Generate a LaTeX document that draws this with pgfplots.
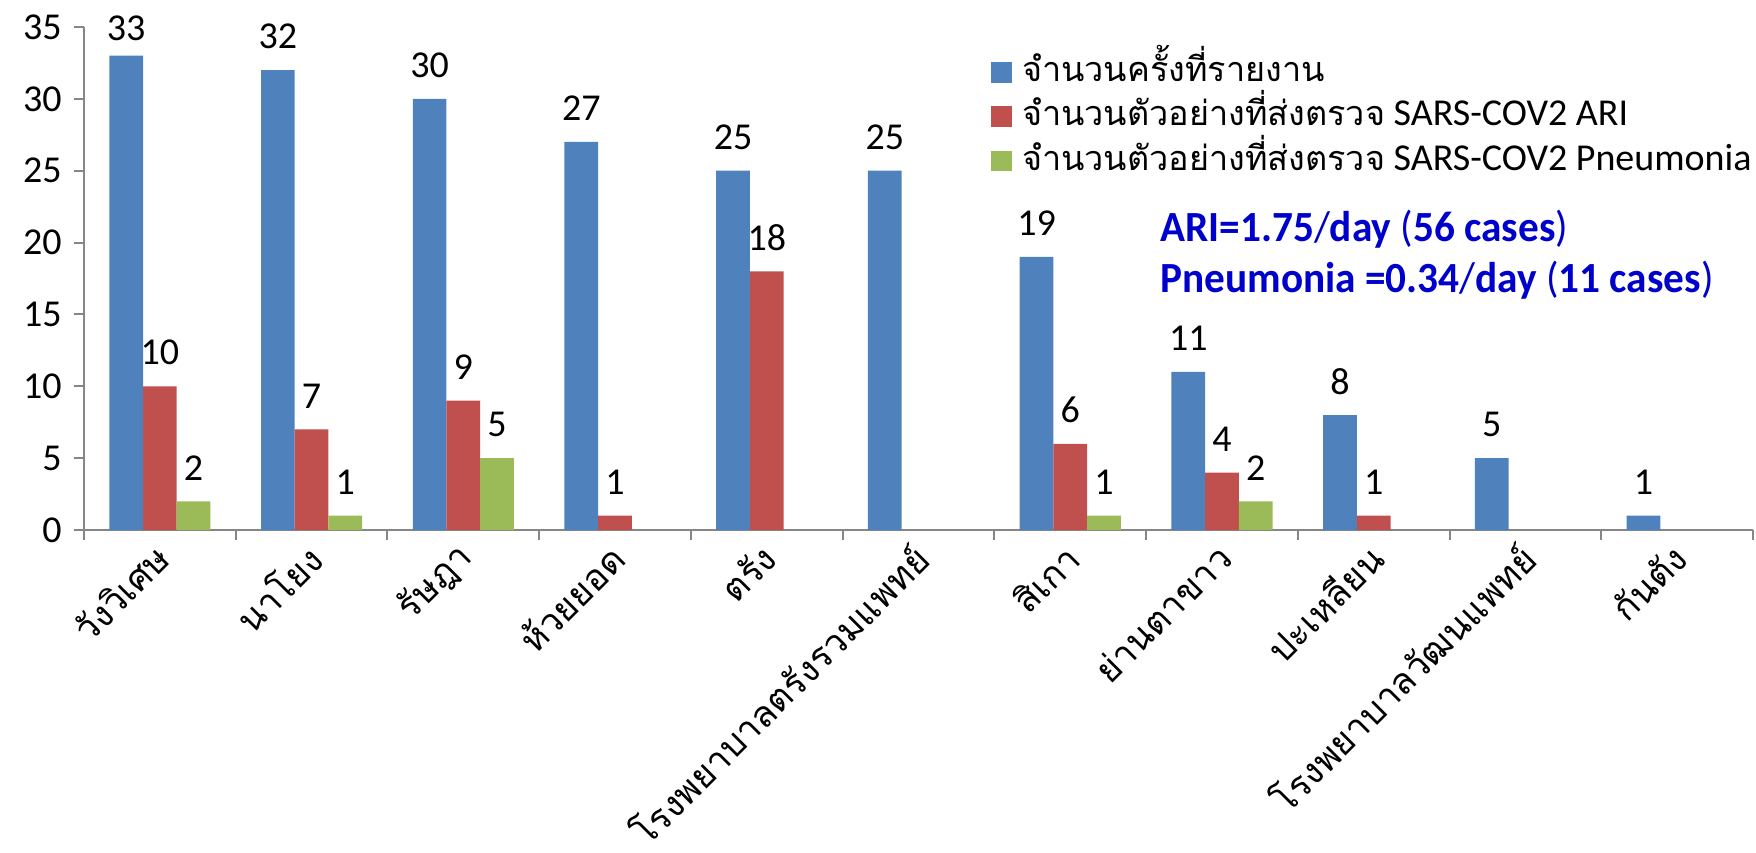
\documentclass[border=0pt]{standalone}
\usepackage{fontspec}
\usepackage{graphicx}
\setmainfont{Carlito}
\newfontfamily\thaifont[Script=Thai,Scale=0.9]{Loma}
\newfontfamily\thaixfont[Script=Thai,Scale=0.95]{Loma}
\usepackage{pgfplots}
\pgfplotsset{compat=1.18}
\definecolor{cblue}{HTML}{4F81BD}
\definecolor{cred}{HTML}{C0504D}
\definecolor{cgreen}{HTML}{9BBB59}
\definecolor{caxis}{HTML}{868686}
\definecolor{annot}{HTML}{0000CC}
\newcommand\fs{\fontsize{19}{23}\selectfont}
\pgfplotsset{sqlegend/.style={legend image code/.code={\fill[##1] (0pt,-5.17pt) rectangle (10.35pt,5.17pt);}}}
\begin{document}
\begin{tikzpicture}
\begin{axis}[
  at={(0,0)}, anchor=south west,
  scale only axis, width=834.5pt, height=251.5pt,
  xmin=-0.5, xmax=10.5, ymin=0, ymax=35,
  ybar=0pt, bar width=16.85pt,
  axis x line*=bottom, axis y line*=left,
  axis line style={caxis, line width=1pt},
  tick style={caxis, line width=1pt},
  tick align=outside,
  major tick length=5pt,
  ytick={0,5,...,35},
  xtick={-0.5,0.5,...,10.5},
  x tick label as interval,
  xticklabels={วังวิเศษ, นาโยง, รัษฎา, ห้วยยอด, ตรัง, โรงพยาบาลตรังรวมแพทย์, สิเกา, ย่านตาขาว, ปะเหลียน, โรงพยาบาลวัฒนแพทย์, กันตัง},
  xticklabel style={font=\fs\thaixfont, rotate=45, anchor=east, inner sep=0pt, xshift=-3pt, yshift=-5pt},
  yticklabel style={font=\fs, anchor=east, inner sep=0pt, xshift=-6pt},
  /pgf/number format/assume math mode=true,
  visualization depends on={rawy \as \rawyval},
  nodes near coords,
  nodes near coords style={font=\fs, black, anchor=center, yshift={ifthenelse(\rawyval>32.5,13.5,16.75)*1pt}},
  legend cell align=left,
  legend style={draw=none, fill=none, at={(0.5434,0.955)}, anchor=north west,
    inner xsep=0pt, inner ysep=0pt,
    nodes={font=\fs, text height=14pt, text depth=5pt, inner ysep=1.6pt, inner xsep=5pt}},
]
\addplot[fill=cblue, draw=none, sqlegend] coordinates {(0,33) (1,32) (2,30) (3,27) (4,25) (5,25) (6,19) (7,11) (8,8) (9,5) (10,1)};
\addplot[fill=cred, draw=none, sqlegend] coordinates {(0,10) (1,7) (2,9) (3,1) (4,18) (6,6) (7,4) (8,1)};
\addplot[fill=cgreen, draw=none, sqlegend] coordinates {(0,2) (1,1) (2,5) (6,1) (7,2)};
\legend{{\thaifont จำนวนครั้งที่รายงาน}, {\thaifont จำนวนตัวอย่างที่ส่งตรวจ} SARS-COV2 ARI, {\thaifont จำนวนตัวอย่างที่ส่งตรวจ} SARS-COV2 Pneumonia}
\node[anchor=base west, text=annot, font=\fontsize{21.5}{25}\selectfont\bfseries, inner sep=0pt] at (axis description cs:0.6447,0.574) {\scalebox{0.96}[1]{ARI=1.75{\mdseries/}day {\mdseries(}56 cases{\mdseries)}}};
\node[anchor=base west, text=annot, font=\fontsize{21.5}{25}\selectfont\bfseries, inner sep=0pt] at (axis description cs:0.6447,0.473) {\scalebox{0.96}[1]{Pneumonia =0.34{\mdseries/}day {\mdseries(}11 cases{\mdseries)}}};
\end{axis}
\pgfresetboundingbox
\path[use as bounding box] (-42pt,-161pt) rectangle (836pt,265pt);
\end{tikzpicture}
\end{document}
